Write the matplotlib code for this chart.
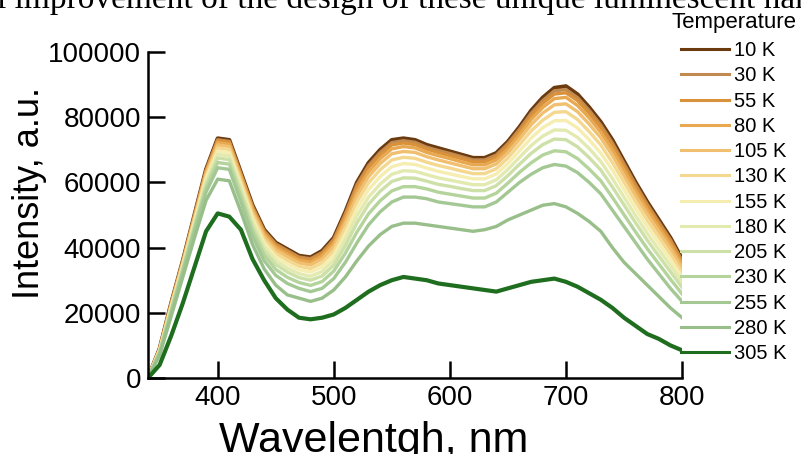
import matplotlib
matplotlib.use("Agg")
import matplotlib.pyplot as plt

plt.rcParams['font.family'] = ['Liberation Sans', 'DejaVu Sans']

# wavelength grid (nm)
wavelength = [340, 350, 360, 370, 380, 390, 400, 410, 420, 430, 440, 450, 460, 470, 480, 490,
              500, 510, 520, 530, 540, 550, 560, 570, 580, 590, 600, 610, 620, 630, 640, 650,
              660, 670, 680, 690, 700, 710, 720, 730, 740, 750, 760, 770, 780, 790, 800]

# intensity (a.u.) for each temperature
i_10 = [0, 9000, 23000, 36000, 50000, 64000, 73500, 73000, 63000, 53000, 45500, 41500, 39500, 37500, 37000, 39000,
        43000, 51000, 60000, 66000, 70000, 73000, 73500, 73000, 71500, 70500, 69500, 68500, 67500, 67500, 69000, 72500,
        77000, 82000, 86000, 89000, 89500, 87000, 83000, 78500, 73000, 66500, 60000, 54000, 48500, 43000, 36500]
i_30 = [0, 9000, 22900, 35900, 49800, 63700, 73100, 72600, 62600, 52600, 45100, 41100, 39100, 37100, 36600, 38500,
        42500, 50400, 59300, 65200, 69200, 72200, 72800, 72300, 70800, 69800, 68900, 67900, 66900, 66900, 68400, 71900,
        76300, 81200, 85100, 88100, 88500, 86000, 82100, 77600, 72100, 65700, 59300, 53300, 47800, 42400, 36000]
i_55 = [0, 8900, 22800, 35700, 49600, 63400, 72800, 72300, 62300, 52200, 44700, 40700, 38700, 36700, 36200, 38100,
        42000, 49800, 58500, 64500, 68500, 71500, 72100, 71600, 70200, 69200, 68200, 67300, 66300, 66300, 67800, 71300,
        75600, 80400, 84300, 87100, 87500, 85100, 81200, 76700, 71300, 64900, 58500, 52600, 47200, 41800, 35500]
i_80 = [0, 8800, 22600, 35500, 49300, 63000, 72200, 71700, 61700, 51700, 44200, 40100, 38000, 36100, 35500, 37400,
        41300, 48800, 57400, 63300, 67300, 70300, 71000, 70600, 69200, 68200, 67300, 66300, 65400, 65400, 66900, 70300,
        74600, 79300, 83000, 85700, 86100, 83600, 79800, 75400, 70000, 63700, 57400, 51600, 46200, 40800, 34700]
i_105 = [0, 8700, 22300, 35200, 48900, 62500, 71500, 71000, 61000, 50900, 43400, 39300, 37200, 35300, 34700, 36500,
         40300, 47600, 55900, 61800, 65800, 68800, 69500, 69200, 67900, 66900, 66000, 65100, 64200, 64200, 65700, 69100,
         73300, 77700, 81300, 83800, 84100, 81700, 77900, 73700, 68300, 62100, 55900, 50200, 44900, 39600, 33600]
i_130 = [0, 8500, 22000, 34900, 48400, 61800, 70600, 70100, 60100, 50000, 42500, 38300, 36100, 34300, 33600, 35300,
         39000, 46000, 54100, 59900, 63900, 66900, 67700, 67400, 66200, 65200, 64400, 63500, 62700, 62700, 64200, 67500,
         71600, 75800, 79100, 81500, 81700, 79300, 75600, 71500, 66100, 60100, 54100, 48400, 43200, 38000, 32300]
i_155 = [0, 8400, 21700, 34500, 47800, 61000, 69600, 69100, 59100, 48900, 41400, 37200, 35000, 33200, 32500, 34100,
         37600, 44300, 52000, 57800, 61800, 64800, 65800, 65500, 64400, 63400, 62600, 61800, 61100, 61100, 62600, 65800,
         69700, 73600, 76800, 78900, 79000, 76700, 73100, 69000, 63800, 57900, 52000, 46500, 41400, 36300, 30900]
i_180 = [0, 8200, 21400, 34100, 47300, 60200, 68600, 68100, 58100, 47800, 40300, 36000, 33700, 32000, 31200, 32700,
         36100, 42500, 49800, 55500, 59500, 62500, 63600, 63400, 62400, 61400, 60700, 60000, 59300, 59300, 60800, 64000,
         67700, 71300, 74200, 76100, 76000, 73800, 70400, 66400, 61200, 55500, 49800, 44400, 39400, 34500, 29400]
i_205 = [0, 8000, 21000, 33700, 46700, 59300, 67500, 67000, 57000, 46600, 39100, 34800, 32500, 30800, 30000, 31300,
         34600, 40600, 47600, 53300, 57300, 60300, 61400, 61300, 60400, 59400, 58800, 58100, 57500, 57500, 59000, 62100,
         65600, 68900, 71600, 73300, 73100, 70900, 67600, 63800, 58600, 53100, 47600, 42300, 37400, 32600, 27800]
i_230 = [0, 7800, 20500, 33100, 45900, 58300, 66100, 65600, 55600, 45200, 37700, 33300, 30900, 29300, 28400, 29600,
         32800, 38300, 44800, 50400, 54400, 57400, 58700, 58700, 58000, 57000, 56400, 55800, 55200, 55200, 56700, 59800,
         63100, 66000, 68400, 69700, 69400, 67300, 64100, 60500, 55400, 50100, 44800, 39700, 35000, 30300, 25800]
i_255 = [0, 7500, 20000, 32500, 45000, 57000, 64500, 64000, 54000, 43500, 36000, 31500, 29000, 27500, 26500, 27500,
         30500, 35500, 41500, 47000, 51000, 54000, 55500, 55500, 55000, 54000, 53500, 53000, 52500, 52500, 54000, 57000,
         60000, 62500, 64500, 65500, 65000, 63000, 60000, 56500, 51500, 46500, 41500, 36500, 32000, 27500, 23500]
i_280 = [0, 7000, 19000, 31000, 43000, 54500, 61000, 60500, 51000, 41000, 33500, 28500, 25500, 24500, 23500, 24500,
         27000, 31000, 36000, 40500, 44000, 46500, 47500, 47500, 47000, 46500, 46000, 45500, 45000, 45500, 46500, 48500,
         50000, 51500, 53000, 53500, 52500, 50500, 48000, 45000, 40000, 35500, 32000, 28500, 25000, 21500, 18500]
i_305 = [0, 4000, 13000, 23000, 34000, 45000, 50500, 49500, 45500, 36500, 30000, 24500, 21000, 18500, 18000, 18500,
         19500, 21500, 24000, 26500, 28500, 30000, 31000, 30500, 30000, 29000, 28500, 28000, 27500, 27000, 26500, 27500,
         28500, 29500, 30000, 30500, 29500, 28000, 26000, 24000, 21500, 18500, 16000, 13500, 12000, 10000, 8500]

labels = ['10 K', '30 K', '55 K', '80 K', '105 K', '130 K', '155 K',
          '180 K', '205 K', '230 K', '255 K', '280 K', '305 K']
series = [i_10, i_30, i_55, i_80, i_105, i_130, i_155, i_180, i_205, i_230, i_255, i_280, i_305]
colors = ['#6b3a0e', '#c08a50', '#d9913a', '#e8a850', '#f0c070', '#f4d890', '#f6eeb0',
          '#e2eab0', '#cde0a8', '#b4d49c', '#a4c894', '#98bf8a', '#1f6e1f']

fig = plt.figure(figsize=(8.01, 4.54), dpi=100)
ax = fig.add_axes([0.1848, 0.1674, 0.6667, 0.718])

for y, c, lab in zip(series, colors, labels):
    lw = 3.0 if lab in ('10 K', '305 K') else 2.4
    ax.plot(wavelength, y, color=c, lw=lw, label=lab)

ax.set_xlim(340, 800)
ax.set_ylim(0, 100000)
ax.set_xticks([400, 500, 600, 700, 800])
ax.set_yticks([0, 20000, 40000, 60000, 80000, 100000])
ax.tick_params(direction='in', length=12, width=1.8, labelsize=20, pad=5)
for s in ['top', 'right']:
    ax.spines[s].set_visible(False)
for s in ['left', 'bottom']:
    ax.spines[s].set_linewidth(1.8)

ax.set_ylabel('Intensity, a.u.', fontsize=26)
ax.yaxis.set_label_coords(-0.19, 0.567)
fig.text(0.466, 1 - 452 / 454, 'Wavelentgh, nm', fontsize=31, ha='center', va='baseline')

leg = ax.legend(title='Temperature', loc='upper left', bbox_to_anchor=(0.838, 0.974),
                bbox_transform=fig.transFigure, frameon=False, fontsize=14.5,
                title_fontsize=16, handlelength=2.4, handletextpad=0.25,
                labelspacing=0.31, borderpad=0.0, borderaxespad=0.0)
leg._legend_box.sep = 6
for h in leg.get_lines():
    h.set_linewidth(2.2)

fig.text(-0.004, 1 - 8 / 454, 'l improvement of the design of these unique luminescent nano',
         fontsize=24, family='Liberation Serif', ha='left', va='baseline')

fig.savefig('out.png', dpi=100)
